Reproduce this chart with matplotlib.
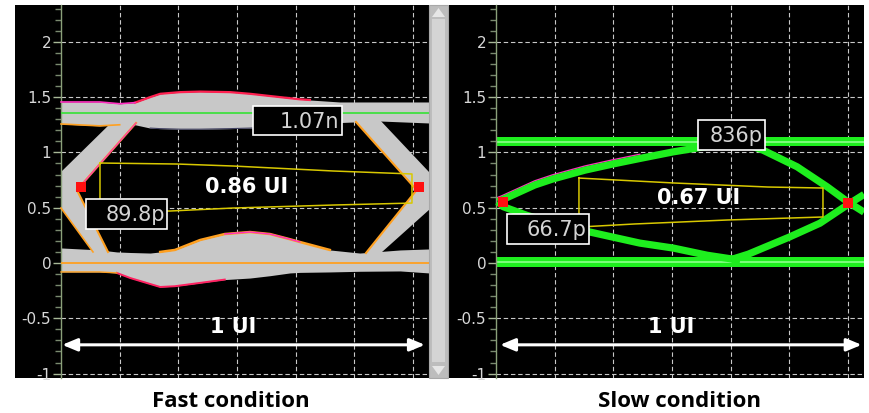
import matplotlib.pyplot as plt
from matplotlib.patches import Rectangle, Polygon
from matplotlib.ticker import MultipleLocator

# axis ticks (volts) and grid columns
y_ticks = [-1, -0.5, 0, 0.5, 1, 1.5, 2]
y_tick_labels = ['-1', '-0.5', '0', '0.5', '1', '1.5', '2']
grid_x = [1, 2, 3, 4, 5, 6]

titles = ['Fast condition', 'Slow condition']
eye_width_labels = ['0.86 UI', '0.67 UI']
upper_labels = ['1.07n', '836p']
lower_labels = ['89.8p', '66.7p']
span_label = '1 UI'

# ---- fast condition: upper / lower rails (gray bands) ----
fast_top_x = [0, 0.66, 1.0, 1.26, 1.52, 1.69, 2.03, 2.37, 2.88, 3.22, 3.56, 4.07, 4.24, 4.75, 5.43, 6.27]
fast_top_hi = [1.456, 1.456, 1.44, 1.45, 1.50, 1.53, 1.545, 1.55, 1.545, 1.53, 1.51, 1.48, 1.474, 1.456, 1.456, 1.456]
fast_top_lo = [1.257, 1.24, 1.25, 1.25, 1.22, 1.215, 1.21, 1.21, 1.215, 1.22, 1.23, 1.248, 1.255, 1.27, 1.284, 1.266]

fast_bot_x = [0, 0.66, 0.95, 1.18, 1.52, 1.69, 1.94, 2.37, 2.79, 3.22, 3.56, 3.9, 4.07, 4.58, 5.09, 5.78, 6.27]
fast_bot_hi = [0.136, 0.118, 0.10, 0.095, 0.09, 0.10, 0.118, 0.208, 0.262, 0.28, 0.262, 0.215, 0.19, 0.118, 0.09, 0.118, 0.127]
fast_bot_lo = [-0.081, -0.081, -0.09, -0.136, -0.19, -0.217, -0.21, -0.18, -0.15, -0.136, -0.115, -0.09, -0.085, -0.081, -0.075, -0.072, -0.09]

# crossings (transitions) of the fast eye
fast_lcross_x = [0.954, 0, 0, 0.545, 0.80, 0.27, 1.278]
fast_lcross_y = [1.32, 0.823, 0.497, 0.10, 0.10, 0.66, 1.266]
fast_rcross_x = [5.434, 6.27, 6.27, 5.45, 5.196, 6.06, 5.026]
fast_rcross_y = [1.293, 0.823, 0.48, 0.09, 0.09, 0.66, 1.275]

fast_levels = [1.36, 0.0]
fast_mask_x = [0.664, 1.976, 2.93, 4.634, 5.98, 5.98, 4.634, 2.93, 1.857, 0.664, 0.664]
fast_mask_y = [0.904, 0.895, 0.877, 0.832, 0.805, 0.542, 0.524, 0.497, 0.47, 0.47, 0.904]
fast_cross_pts_x = [0.34, 6.1]
fast_cross_pts_y = [0.687, 0.687]

# ---- slow condition ----
slow_top_x = [0, 6.27]
slow_top_hi = [1.135, 1.135]
slow_top_lo = [1.06, 1.06]
slow_bot_x = [0, 6.27]
slow_bot_hi = [0.052, 0.052]
slow_bot_lo = [-0.035, -0.035]
slow_levels = [1.097, 0.01]

slow_ul_x = [0.03, 0.10, 0.66, 0.97, 1.52, 1.99, 2.45, 3.02, 3.48, 4.16]
slow_ul_y = [0.555, 0.57, 0.705, 0.76, 0.84, 0.895, 0.945, 1.005, 1.045, 1.09]
slow_ll_x = [0.03, 0.12, 0.53, 1.0, 1.6, 2.45, 3.02, 3.6, 4.16]
slow_ll_y = [0.555, 0.51, 0.43, 0.36, 0.28, 0.18, 0.135, 0.07, 0.025]
slow_ur_x = [4.24, 4.55, 5.13, 5.64, 6.0, 6.27]
slow_ur_y = [1.08, 1.02, 0.87, 0.69, 0.55, 0.46]
slow_lr_x = [4.0, 4.3, 5.0, 5.52, 6.0, 6.27]
slow_lr_y = [0.03, 0.08, 0.235, 0.36, 0.53, 0.62]

slow_mask_x = [1.414, 3.05, 4.634, 5.571, 5.571, 3.952, 2.368, 1.414, 1.414]
slow_mask_y = [0.768, 0.723, 0.687, 0.678, 0.416, 0.389, 0.353, 0.325, 0.768]
slow_cross_pts_x = [0.12, 6.0]
slow_cross_pts_y = [0.55, 0.54]

W, H = 869, 413
fig = plt.figure(figsize=(W / 100, H / 100), dpi=100)


def px_axes(x0, x1, y0=5, y1=378):
    return fig.add_axes([x0 / W, 1 - y1 / H, (x1 - x0) / W, (y1 - y0) / H])


def setup(ax, xlo):
    ax.set_facecolor('black')
    ax.set_xlim(xlo, 6.27)
    ax.set_ylim(-1.04, 2.333)
    for s in ['top', 'right', 'bottom']:
        ax.spines[s].set_visible(False)
    ax.spines['left'].set_position(('data', 0))
    ax.spines['left'].set_color('#8aa07a')
    ax.spines['left'].set_linewidth(1.0)
    ax.set_xticks([])
    ax.set_yticks(y_ticks, y_tick_labels)
    ax.yaxis.set_minor_locator(MultipleLocator(0.1))
    ax.tick_params(axis='y', which='major', length=6, width=1, color='#a8b898',
                   labelcolor='#d8d8d8', labelsize=11, pad=1)
    ax.tick_params(axis='y', which='minor', length=4, width=1, color='#7a8a70')
    ax.vlines(grid_x, -1.04, 2.333, colors='#c8c8c8', linestyles=(0, (4, 2.5)), lw=0.8, zorder=1)
    ax.hlines(y_ticks, 0, 6.27, colors='#c8c8c8', linestyles=(0, (4, 2.5)), lw=0.8, zorder=1)


def label_box(ax, x0, x1, y0, y1, text):
    ax.add_patch(Rectangle((x0, y0), x1 - x0, y1 - y0, fc='black', ec='white', lw=1.2, zorder=6))
    ax.text(x1 - 0.04, (y0 + y1) / 2 - 0.01, text, ha='right', va='center', color='#d4d4d4',
            fontsize=15, zorder=7)


def span_arrow(ax, x0, x1):
    ax.annotate('', xy=(x1, -0.74), xytext=(x0, -0.74), zorder=6,
                arrowprops=dict(arrowstyle='<|-|>,head_length=0.6,head_width=0.25',
                                color='white', lw=2.2, mutation_scale=15, shrinkA=0, shrinkB=0))
    ax.text((x0 + x1) / 2 - 0.17, -0.58, span_label, ha='center', va='center', color='white',
            fontsize=15, fontweight='bold', zorder=6)


gray = '#c8c8c8'
orange = '#ffa020'
magenta = '#ff30c0'

# ---------------- Fast condition ----------------
ax1 = px_axes(15, 429)
setup(ax1, -0.784)
ax1.fill_between(fast_top_x, fast_top_lo, fast_top_hi, color=gray, lw=0, zorder=2)
ax1.fill_between(fast_bot_x, fast_bot_lo, fast_bot_hi, color=gray, lw=0, zorder=2)
ax1.fill(fast_lcross_x, fast_lcross_y, color=gray, lw=0, zorder=2)
ax1.fill(fast_rcross_x, fast_rcross_y, color=gray, lw=0, zorder=2)
# coloured trace edges
ax1.plot(fast_top_x[3:13], fast_top_hi[3:13], color='#ff2050', lw=1.6, zorder=3)
ax1.plot(fast_top_x[0:4], fast_top_hi[0:4], color=magenta, lw=1.2, zorder=3)
ax1.plot(fast_top_x[0:3], fast_top_lo[0:3], color=orange, lw=1.2, zorder=3)
ax1.plot(fast_top_x[4:12], fast_top_lo[4:12], color='#404060', lw=0.8, zorder=3)
ax1.plot(fast_bot_x[5:14], fast_bot_hi[5:14], color=orange, lw=1.8, zorder=3)
ax1.plot(fast_bot_x[8:13], fast_bot_hi[8:13], color=magenta, lw=1.0, zorder=3)
ax1.plot(fast_bot_x[2:9], fast_bot_lo[2:9], color='#ff2060', lw=1.4, zorder=3)
ax1.plot(fast_bot_x[0:3], fast_bot_lo[0:3], color=orange, lw=1.0, zorder=3)
ax1.plot(fast_lcross_x[4:7], fast_lcross_y[4:7], color=orange, lw=1.5, zorder=3)
ax1.plot(fast_lcross_x[5:7], fast_lcross_y[5:7], color=magenta, lw=0.8, zorder=3)
ax1.plot(fast_rcross_x[4:7], fast_rcross_y[4:7], color=orange, lw=1.5, zorder=3)
ax1.plot(fast_lcross_x[2:4], fast_lcross_y[2:4], color=orange, lw=1.2, zorder=3)
ax1.hlines(fast_levels[0], 0, 6.27, color='#40e040', lw=1.3, zorder=3)
ax1.hlines(fast_levels[1], 0, 6.27, color=orange, lw=1.3, zorder=3)
ax1.plot(fast_mask_x, fast_mask_y, color='#d8c800', lw=1.1, zorder=4)
ax1.plot(fast_cross_pts_x, fast_cross_pts_y, 's', color='#ff1010', ms=7, mew=0, zorder=5)
label_box(ax1, 3.27, 4.787, 1.157, 1.42, upper_labels[0])
label_box(ax1, 0.426, 1.806, 0.307, 0.579, lower_labels[0])
ax1.text(3.17, 0.687, eye_width_labels[0], ha='center', va='center', color='white',
         fontsize=15, fontweight='bold', zorder=6)
span_arrow(ax1, 0.02, 6.2)

# ---------------- Slow condition ----------------
green = '#1eee1e'
ax2 = px_axes(449, 864)
setup(ax2, -0.80)
ax2.fill_between(slow_top_x, slow_top_lo, slow_top_hi, color=green, lw=0, zorder=2)
ax2.fill_between(slow_bot_x, slow_bot_lo, slow_bot_hi, color=green, lw=0, zorder=2)
ax2.hlines(slow_levels, 0, 6.27, color='#8cff8c', lw=1.2, zorder=2)
ax2.plot(slow_ul_x[:7], [v + 0.038 for v in slow_ul_y[:7]], color=magenta, lw=1.0, zorder=2)
for cx, cy in [(slow_ul_x, slow_ul_y), (slow_ll_x, slow_ll_y),
               (slow_ur_x, slow_ur_y), (slow_lr_x, slow_lr_y)]:
    ax2.plot(cx, cy, color=green, lw=5.2, solid_capstyle='butt', solid_joinstyle='round', zorder=3)
ax2.plot(slow_mask_x, slow_mask_y, color='#d8c800', lw=1.1, zorder=4)
ax2.plot(slow_cross_pts_x, slow_cross_pts_y, 's', color='#ff1010', ms=7, mew=0, zorder=5)
label_box(ax2, 3.44, 4.583, 1.022, 1.293, upper_labels[1])
label_box(ax2, 0.187, 1.584, 0.172, 0.443, lower_labels[1])
ax2.text(3.46, 0.588, eye_width_labels[1], ha='center', va='center', color='white',
         fontsize=15, fontweight='bold', zorder=6)
span_arrow(ax2, 0.07, 6.23)

# scroll bar between the two scope windows
fig.add_artist(Rectangle((429 / W, 1 - 378 / H), 19 / W, 373 / H, transform=fig.transFigure,
                         fc='#bdbdbd', ec='#a8a8a8', lw=0.8))
fig.add_artist(Rectangle((432 / W, 1 - 362 / H), 13 / W, 343 / H, transform=fig.transFigure,
                         fc='#d4d4d4', ec='none'))
fig.add_artist(Polygon([(432 / W, 1 - 17 / H), (445 / W, 1 - 17 / H), (438.5 / W, 1 - 8 / H)],
                       closed=True, transform=fig.transFigure, fc='#e6e6e6', ec='none'))
fig.add_artist(Polygon([(432 / W, 1 - 366 / H), (445 / W, 1 - 366 / H), (438.5 / W, 1 - 375 / H)],
                       closed=True, transform=fig.transFigure, fc='#e6e6e6', ec='none'))

for cx, t in zip([231, 680], titles):
    fig.text(cx / W, 1 - 407 / H, t, ha='center', va='baseline', fontsize=16,
             fontweight='bold', family='Open Sans', color='black')

fig.savefig('out.png', dpi=100)
